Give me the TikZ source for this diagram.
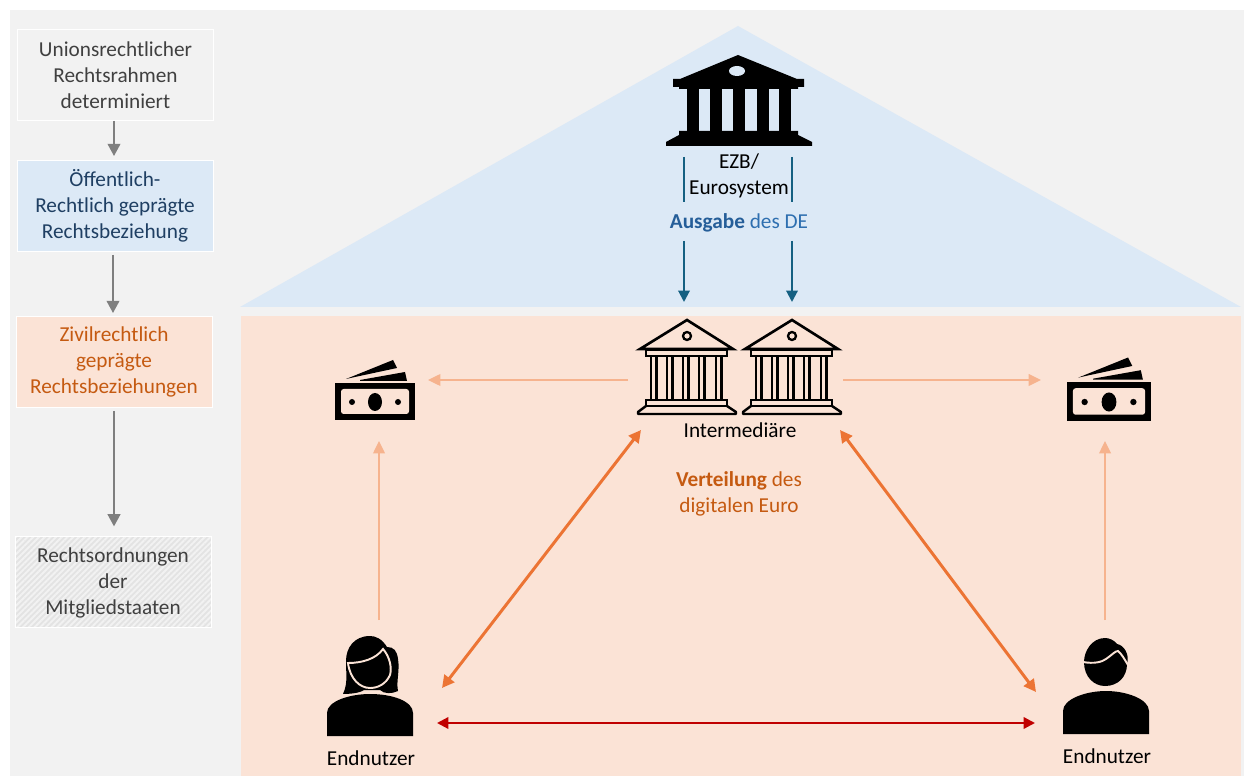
\documentclass[tikz,border=0pt]{standalone}
\usepackage{fontspec}
\setmainfont{Carlito}
\usetikzlibrary{arrows.meta, patterns.meta}
\definecolor{bggray}{HTML}{F2F2F2}
\definecolor{zoneblue}{HTML}{DCE9F6}
\definecolor{zonepeach}{HTML}{FBE3D6}
\definecolor{txtgray}{HTML}{404040}
\definecolor{txtnavy}{HTML}{1F3F63}
\definecolor{txtorange}{HTML}{C55A11}
\definecolor{txtblue}{HTML}{2E6FB0}
\definecolor{boldblue}{HTML}{255E99}
\definecolor{arrowteal}{HTML}{156082}
\definecolor{arrowlight}{HTML}{F6B38E}
\definecolor{arroworange}{HTML}{EC7434}
\definecolor{arrowred}{HTML}{C00000}
\definecolor{arrowgray}{HTML}{7F7F7F}
\tikzset{
  sidebox/.style={draw=white, line width=0.4pt, minimum width=196\pxu, minimum height=91\pxu,
    align=center, font=\fontsize{12.1}{14.8}\selectfont, inner sep=0pt},
  label/.style={align=center, font=\fontsize{12.1}{14.8}\selectfont, inner sep=0pt},
  grayarrow/.style={-{Triangle[length=7pt,width=7pt]}, line width=1.6pt, arrowgray},
  tealarrow/.style={-{Triangle[length=6.5pt,width=6.5pt]}, line width=1.2pt, arrowteal},
  lightarrow/.style={-{Triangle[length=7pt,width=6.5pt]}, line width=1.2pt, arrowlight},
  orangearrow/.style={{Triangle[length=7pt,width=7pt]}-{Triangle[length=7pt,width=7pt]}, line width=1.7pt, arroworange},
  redarrow/.style={{Triangle[length=6.5pt,width=6.5pt]}-{Triangle[length=6.5pt,width=6.5pt]}, line width=1.3pt, arrowred},
  pics/solidbank/.style={code={
    \fill[black] (0,-16) -- (-58,8) -- (-65,8) -- (-65,16) -- (-59,16) -- (-59,18) -- (60,18) -- (60,16) -- (66,16) -- (66,8) -- (59,8) -- cycle;
    \fill[zoneblue] (-1,0) ellipse (8 and 5);
    \foreach \cx in {-51,-28,-5,19,41} {\fill[black] (\cx,17) rectangle ++(11.5,45);}
    \fill[black] (-59,60) -- (60,60) -- (60,64) -- (74,71) -- (74,75) -- (-72,75) -- (-72,71) -- (-59,64) -- cycle;
  }},
  pics/linebank/.style={code={
    \draw[line width=1.5pt, line join=miter] (0,-46) -- (-47,-17) -- (46,-17) -- cycle;
    \draw[line width=1.3pt] (0,-30) circle (4);
    \draw[line width=1.3pt] (-41,-16) rectangle (40,-10);
    \foreach \cx in {-36,-20,-4,12,29} {\draw[line width=1.3pt] (\cx,-10) -- (\cx,34) (\cx+5.5,-10) -- (\cx+5.5,34);}
    \draw[line width=1.4pt] (-41,34) rectangle (40,40);
    \draw[line width=1.4pt, line join=round] (-41,40) -- (-49,46) -- (-49,48) -- (49,48) -- (49,46) -- (40,40);
  }},
  pics/moneyicon/.style={code={
    \fill[black] (-40,-19) rectangle (40,18);
    \fill[zonepeach, rounded corners=1.5pt] (-34,-13) rectangle (34,12);
    \fill[black] (0,0) ellipse (7 and 9);
    \fill[black] (-23,0) circle (3) (23,0) circle (3);
    \fill[black] (-29,-23) -- (18,-42) -- (22,-34) -- (-20,-25) -- cycle;
    \fill[black] (-15,-22) -- (30,-30) -- (32,-21) -- (-15,-21) -- cycle;
  }},
  pics/womanicon/.style={code={
    \fill[black] (-43,43) -- (-43,20) .. controls (-43,8) and (-20,1) .. (0,1) .. controls (22,1) and (43,8) .. (43,20) -- (43,43) -- cycle;
    \fill[black] (0,-57) .. controls (-16,-57) and (-24,-45) .. (-24,-32) .. controls (-24,-18) and (-22,-10) .. (-27,1)
      .. controls (-20,1) and (-10,0) .. (-6,-3) -- (10,-3) .. controls (14,1) and (22,1) .. (28,-2)
      .. controls (26,-12) and (30,-22) .. (28,-34) .. controls (27,-42) and (24,-46) .. (17,-46) .. controls (12,-54) and (6,-57) .. (0,-57) -- cycle;
    \draw[zonepeach, line width=1.1pt] (-22,-30) .. controls (-8,-30) and (6,-34) .. (13,-44)
      .. controls (20,-36) and (22,-25) .. (20,-18) .. controls (16,-9) and (8,-5) .. (0,-5)
      .. controls (-10,-5) and (-20,-14) .. (-22,-30) -- cycle;
  }},
  pics/manicon/.style={code={
    \fill[black] (-43,43) -- (-43,20) .. controls (-43,8) and (-20,0) .. (0,0) .. controls (20,0) and (43,8) .. (43,20) -- (43,43) -- cycle;
    \fill[black] (-1,-53) .. controls (-14,-53) and (-22,-40) .. (-22,-29) .. controls (-22,-14) and (-12,-5) .. (-1,-5)
      .. controls (12,-5) and (21,-14) .. (21,-27) .. controls (24,-36) and (18,-46) .. (11,-47) .. controls (8,-51) and (3,-53) .. (-1,-53) -- cycle;
    \draw[zonepeach, line width=1.1pt] (-23,-29) .. controls (-12,-27) and (-4,-29) .. (0,-32) .. controls (6,-36) and (9,-40) .. (12,-40) .. controls (15,-38) and (19,-31) .. (22,-26);
  }},
}
\newcommand{\pxu}{*0.02cm}
\begin{document}
\begin{tikzpicture}[x=0.02cm, y=-0.02cm]
% canvas
\useasboundingbox (0,0) rectangle (1244,776);
\fill[white] (0,0) rectangle (1244,776);
\fill[bggray] (10,10) rectangle (1244,776);

% zones
\fill[zoneblue] (240,307) -- (738,26) -- (1241,307) -- cycle;
\fill[zonepeach] (241,316) rectangle (1241,776);

% left column
\node[sidebox, fill=bggray, text=txtgray] (unionsrecht) at (115.5,75) {Unionsrechtlicher\\Rechtsrahmen\\determiniert};
\node[sidebox, fill=zoneblue, text=txtnavy] (oeffrecht) at (115,206) {Öffentlich-\\Rechtlich geprägte\\Rechtsbeziehung};
\node[sidebox, fill=zonepeach, text=txtorange] (zivilrecht) at (114,362) {Zivilrechtlich\\geprägte\\Rechtsbeziehungen};
\node[sidebox, draw=white, text=txtgray, preaction={fill=black!11},
  pattern={Lines[angle=45,distance=2.3pt,line width=1.1pt]}, pattern color=black!5] (mitglied) at (113,582) {};
\node[label, text=txtgray] (mitgliedtxt) at (113,582.5) {Rechtsordnungen\\der\\Mitgliedstaaten};

\draw[grayarrow, shorten >=4\pxu] ([xshift=-1.5\pxu]unionsrecht.south) -- ([xshift=-1\pxu]oeffrecht.north);
\draw[grayarrow, shorten <=3\pxu, shorten >=3\pxu] ([xshift=-2\pxu]oeffrecht.south) -- (zivilrecht.north -| 113,0);
\draw[grayarrow, shorten <=3\pxu, shorten >=9\pxu] (zivilrecht.south) -- (zivilrecht.south |- mitglied.north);

% central bank
\pic (ezb) at (738,71) {solidbank};
\node[label, text=black] (ezbtxt) at (739,176) {EZB/\\Eurosystem};
\node[label] (ausgabe) at (739,222.5) {\textcolor{boldblue}{\textbf{Ausgabe}} \textcolor{txtblue}{des DE}};
\coordinate (ezbLtop) at (684,157);
\coordinate (ezbLend) at (684,202);
\coordinate (ezbRtop) at (792,157);
\coordinate (ezbRend) at (792,202);
\coordinate (ausgLtop) at (684,241);
\coordinate (ausgRtop) at (792,241);
\draw[arrowteal, line width=1.2pt] (ezbLtop) -- (ezbLend);
\draw[arrowteal, line width=1.2pt] (ezbRtop) -- (ezbRend);

% intermediaries
\pic (bankL) at (687,366) {linebank};
\pic (bankR) at (792,366) {linebank};
\coordinate (bankLin) at (684,302);
\coordinate (bankRin) at (792,302);
\draw[tealarrow] (ausgLtop) -- (bankLin);
\draw[tealarrow] (ausgRtop) -- (bankRin);
\node[label, text=black] (intermed) at (740,430) {Intermediäre};
\node[label, text=txtorange] (verteilung) at (739,494) {\textbf{Verteilung} des\\digitalen Euro};

% money and users
\pic (moneyL) at (375,402) {moneyicon};
\pic[scale=1.06] (moneyR) at (1109,402) {moneyicon};
\pic (userL) at (370,693) {womanicon};
\pic (userR) at (1106,691) {manicon};
\node[label, text=black] (endL) at (371,758) {Endnutzer};
\node[label, text=black] (endR) at (1107,756) {Endnutzer};

% connectors
\coordinate (bankWest) at (628,380);
\coordinate (bankEast) at (843,380);
\coordinate (moneyLin) at (428,380);
\coordinate (moneyRin) at (1041,380);
\coordinate (moneyLsouth) at (379,441);
\coordinate (moneyRsouth) at (1105,441);
\coordinate (userLnorth) at (379,620);
\coordinate (userRnorth) at (1105,620);
\coordinate (bankSW) at (641,430);
\coordinate (bankSE) at (840,430);
\coordinate (userLne) at (442,688);
\coordinate (userRnw) at (1036,692);
\coordinate (userLeast) at (437,723);
\coordinate (userRwest) at (1035,723);
\draw[lightarrow] (bankWest) -- (moneyLin);
\draw[lightarrow] (bankEast) -- (moneyRin);
\draw[lightarrow] (userLnorth) -- (moneyLsouth);
\draw[lightarrow] (userRnorth) -- (moneyRsouth);
\draw[orangearrow] (bankSW) -- (userLne);
\draw[orangearrow] (bankSE) -- (userRnw);
\draw[redarrow] (userLeast) -- (userRwest);
\end{tikzpicture}
\end{document}
